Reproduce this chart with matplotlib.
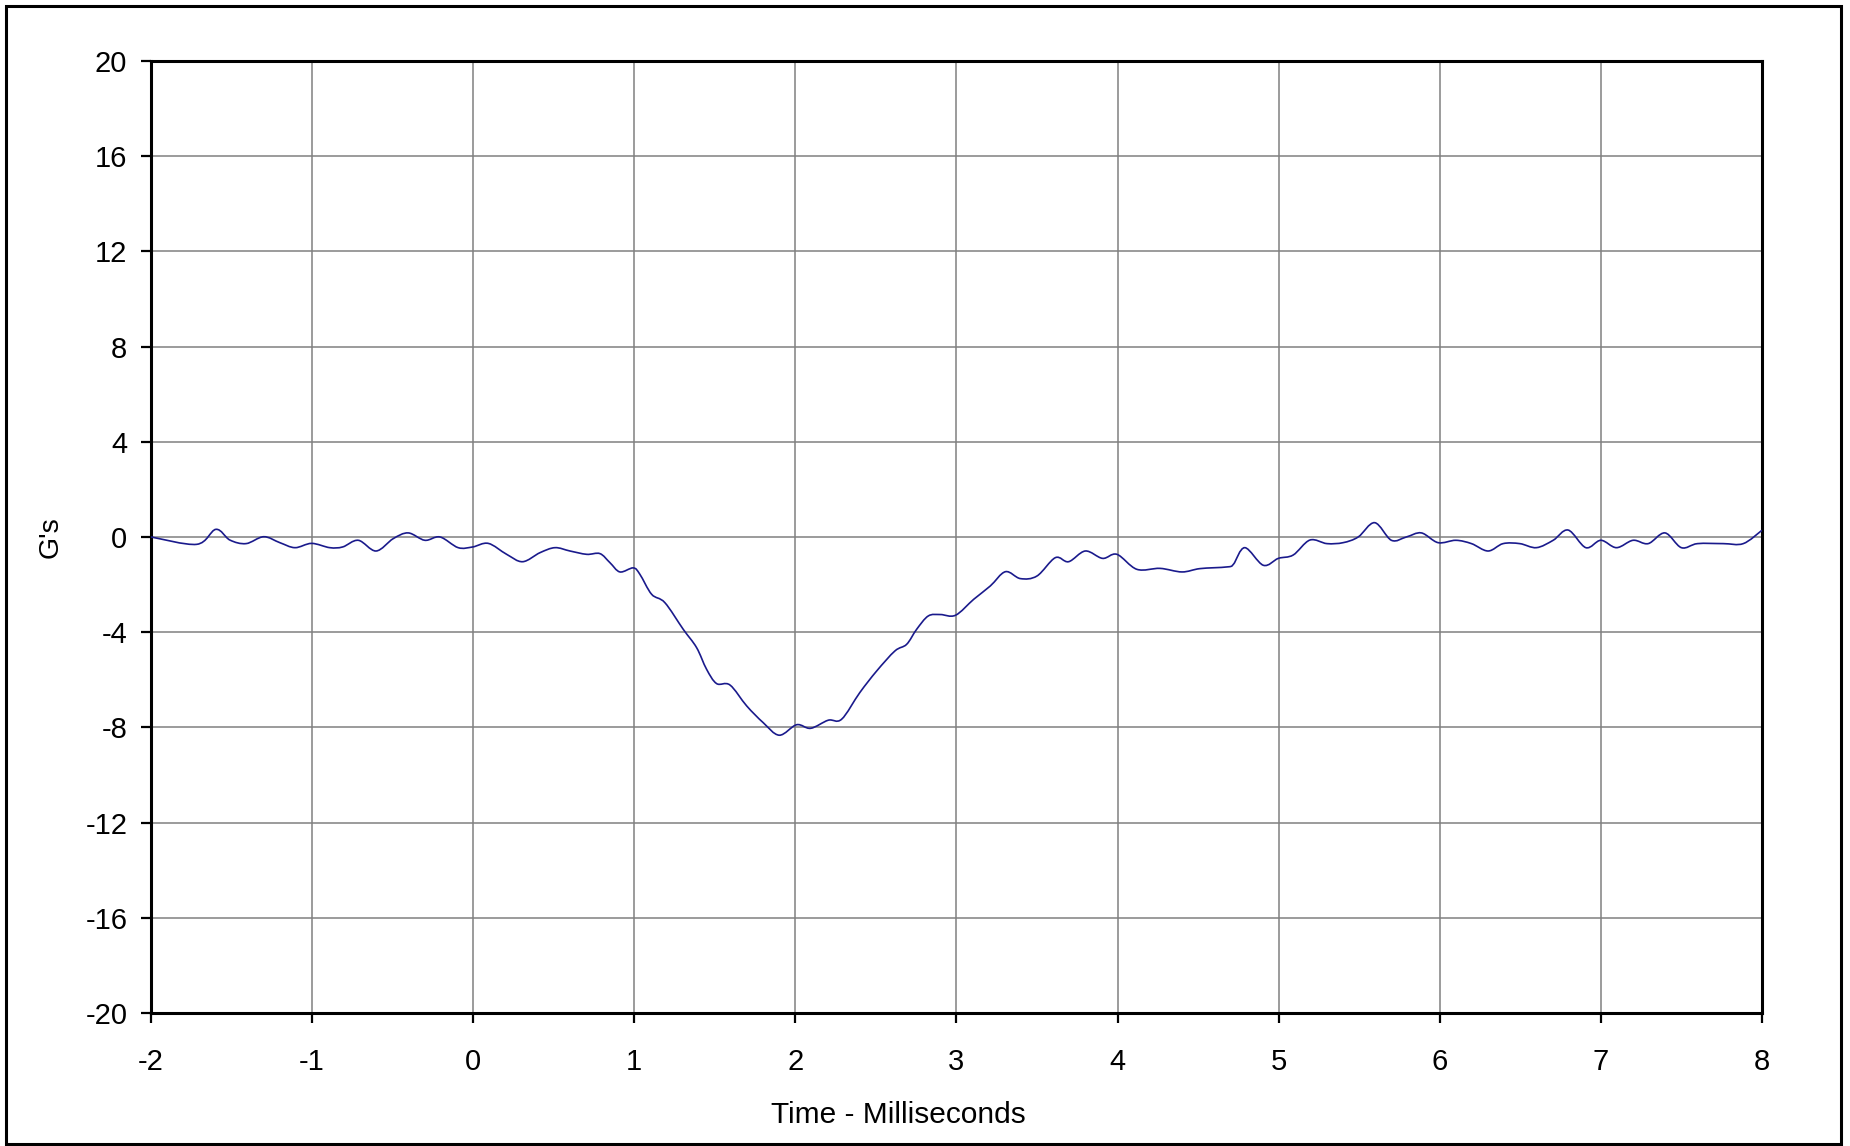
import matplotlib
matplotlib.use("Agg")
import matplotlib.pyplot as plt
from matplotlib.patches import Rectangle, PathPatch
from matplotlib.path import Path

plt.rcParams['font.family'] = ['Liberation Sans', 'DejaVu Sans']
plt.rcParams['axes.unicode_minus'] = False

# accelerometer trace (time in ms, G's)
time_ms = [-2.0, -1.716, -1.597, -1.51, -1.41, -1.30, -1.20, -1.106, -1.003, -0.89,
           -0.81, -0.713, -0.603, -0.496, -0.403, -0.30, -0.206, -0.093, -0.003, 0.094,
           0.208, 0.307, 0.415, 0.508, 0.601, 0.705, 0.787, 0.849, 0.911, 0.994,
           1.035, 1.108, 1.19, 1.304, 1.387, 1.449, 1.511, 1.594, 1.698, 1.80,
           1.90, 2.008, 2.095, 2.204, 2.287, 2.40, 2.505, 2.618, 2.691, 2.753,
           2.825, 2.90, 2.994, 3.107, 3.21, 3.304, 3.397, 3.50, 3.614, 3.696,
           3.80, 3.907, 3.996, 4.12, 4.264, 4.40, 4.512, 4.678, 4.719, 4.79,
           4.905, 4.998, 5.09, 5.194, 5.30, 5.40, 5.494, 5.596, 5.70, 5.793,
           5.886, 5.99, 6.10, 6.197, 6.30, 6.393, 6.497, 6.60, 6.704, 6.797,
           6.907, 7.0, 7.097, 7.20, 7.294, 7.398, 7.50, 7.60, 7.76, 7.884, 8.0]
gees = [0.0, -0.31, 0.32, -0.13, -0.28, 0.01, -0.24, -0.45, -0.27, -0.45,
        -0.42, -0.14, -0.59, -0.07, 0.17, -0.14, 0.0, -0.45, -0.42, -0.27,
        -0.73, -1.04, -0.66, -0.45, -0.59, -0.73, -0.70, -1.08, -1.47, -1.30,
        -1.57, -2.41, -2.76, -3.88, -4.65, -5.56, -6.16, -6.22, -7.10, -7.80,
        -8.33, -7.89, -8.04, -7.70, -7.66, -6.54, -5.63, -4.79, -4.51, -3.88,
        -3.32, -3.26, -3.29, -2.62, -2.06, -1.46, -1.75, -1.64, -0.87, -1.04,
        -0.59, -0.90, -0.73, -1.36, -1.32, -1.47, -1.33, -1.26, -1.15, -0.45,
        -1.19, -0.90, -0.76, -0.13, -0.28, -0.24, 0.0, 0.60, -0.14, 0.0,
        0.17, -0.24, -0.14, -0.28, -0.59, -0.28, -0.28, -0.45, -0.14, 0.29,
        -0.45, -0.14, -0.45, -0.14, -0.28, 0.17, -0.45, -0.28, -0.28, -0.28, 0.28]

xticks = list(range(-2, 9))
yticks = list(range(-20, 21, 4))

fig = plt.figure(figsize=(18.5, 11.46), dpi=100)
ax = fig.add_axes([0.0816, 0.1161, 0.8708, 0.8307])

# smoothed line like Excel: bezier segments through the points
verts = [(time_ms[0], gees[0])]
codes = [Path.MOVETO]
n = len(time_ms)
for i in range(n - 1):
    x0, y0 = time_ms[max(i - 1, 0)], gees[max(i - 1, 0)]
    x1, y1 = time_ms[i], gees[i]
    x2, y2 = time_ms[i + 1], gees[i + 1]
    x3, y3 = time_ms[min(i + 2, n - 1)], gees[min(i + 2, n - 1)]
    verts += [(x1 + (x2 - x0) / 6, y1 + (y2 - y0) / 6),
              (x2 - (x3 - x1) / 6, y2 - (y3 - y1) / 6),
              (x2, y2)]
    codes += [Path.CURVE4] * 3
ax.add_patch(PathPatch(Path(verts, codes), fill=False, ec='#1a1a8c', lw=1.2, zorder=3))

ax.set_xlim(-2, 8)
ax.set_ylim(-20, 20)
ax.set_xticks(xticks)
ax.set_yticks(yticks)
ax.grid(True, color='#808080', lw=1.1)
ax.set_axisbelow(True)
for s in ax.spines.values():
    s.set_linewidth(2.2)
ax.tick_params(direction='out', length=7, width=1.6, labelsize=21, pad=10)
ax.tick_params(axis='x', pad=18)

ax.set_xlabel('Time - Milliseconds', fontsize=21.5)
ax.xaxis.set_label_coords(0.464, -0.093)
ax.set_ylabel("G's", fontsize=20.5, labelpad=16)

# outer chart border
fig.patches.append(Rectangle((0.0035, 0.002), 0.9914, 0.9925, transform=fig.transFigure,
                             fill=False, ec='black', lw=2.2))

fig.savefig('out.png', dpi=100)
